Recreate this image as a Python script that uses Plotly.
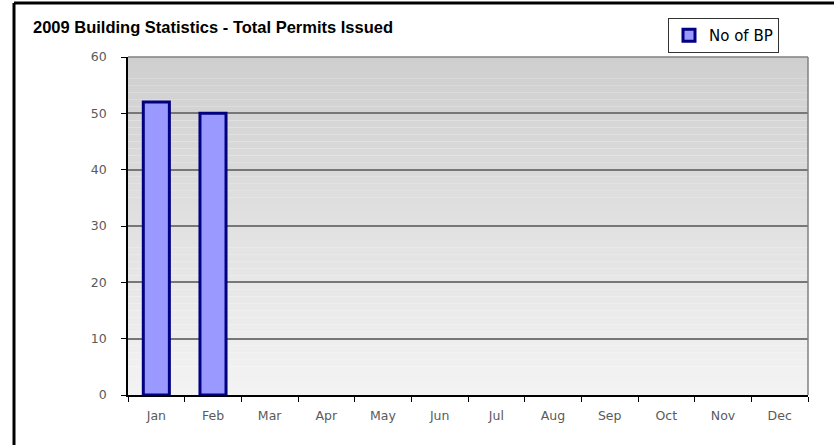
import plotly.graph_objects as go

months = ["Jan", "Feb", "Mar", "Apr", "May", "Jun", "Jul", "Aug", "Sep", "Oct", "Nov", "Dec"]
permits = [52, 50, None, None, None, None, None, None, None, None, None, None]
y_ticks = [0, 10, 20, 30, 40, 50, 60]

W, H = 834, 445
ML, MR, MT, MB = 128, 26, 57, 50
PW, PH = W - ML - MR, H - MT - MB


def px_x(x):
    return (x - ML) / PW


def px_y(y):
    return (H - MB - y) / PH


fig = go.Figure()
fig.add_trace(go.Bar(
    x=months, y=permits, name="No of BP",
    marker=dict(color="#9999ff", line=dict(color="#000080", width=3)),
))

shapes = []
# vertical grey gradient behind the plot area
n = 48
top = (207, 207, 207)
bot = (243, 243, 243)
for i in range(n):
    t = i / (n - 1)
    c = tuple(round(top[k] + (bot[k] - top[k]) * t) for k in range(3))
    shapes.append(dict(
        type="rect", xref="x domain", yref="y domain",
        x0=0, x1=1, y0=1 - (i + 1) / n, y1=1 - i / n,
        fillcolor="rgb(%d,%d,%d)" % c, line=dict(width=0), layer="below",
    ))
# plot area border (top and right)
shapes.append(dict(type="line", xref="x domain", yref="y domain", x0=0, x1=1, y0=1, y1=1,
                   line=dict(color="#808080", width=1.5)))
shapes.append(dict(type="line", xref="x domain", yref="y domain", x0=1, x1=1, y0=0, y1=1,
                   line=dict(color="#808080", width=1.5)))
# outer chart frame
fx, fy = px_x(14), px_y(3)
shapes.append(dict(type="line", xref="paper", yref="paper", x0=fx, x1=fx, y0=-0.3, y1=fy,
                   line=dict(color="black", width=3)))
shapes.append(dict(type="line", xref="paper", yref="paper", x0=fx, x1=1.2, y0=fy, y1=fy,
                   line=dict(color="black", width=3)))

tick_font = dict(family="DejaVu Sans, sans-serif", size=12.5, color="#5a5a5a")

fig.update_layout(
    width=W, height=H,
    margin=dict(l=ML, r=MR, t=MT, b=MB, autoexpand=False),
    paper_bgcolor="white",
    plot_bgcolor="rgba(0,0,0,0)",
    font=dict(family="DejaVu Sans, sans-serif", color="#5a5a5a"),
    bargap=0.54,
    shapes=shapes,
    showlegend=True,
    title=dict(
        text="<b>2009 Building Statistics - Total Permits Issued</b>",
        x=33 / W, xref="container", xanchor="left",
        y=1 - 27 / H, yref="container", yanchor="middle",
        font=dict(size=16.5, color="black", family="Liberation Sans, Arial, sans-serif"),
    ),
    legend=dict(
        x=px_x(668), y=px_y(18), xanchor="left", yanchor="top",
        bgcolor="white", bordercolor="#333", borderwidth=1,
        font=dict(size=15, color="black", family="DejaVu Sans, sans-serif"),
        itemwidth=30,
    ),
    xaxis=dict(
        type="category", categoryorder="array", categoryarray=months,
        range=[-0.5, 11.5], tickson="boundaries",
        ticks="outside", ticklen=5, tickcolor="black",
        showline=True, linecolor="black", linewidth=1.5,
        showgrid=False, tickfont=tick_font,
        ticklabelstandoff=8,
    ),
    yaxis=dict(
        range=[0, 60], tickvals=y_ticks,
        ticks="outside", ticklen=5, tickcolor="black",
        showline=True, linecolor="black", linewidth=1.5,
        showgrid=True, gridcolor="#777777", gridwidth=1.5,
        zeroline=False, tickfont=tick_font,
        ticklabelstandoff=12,
    ),
)

fig.write_html("out.html")
